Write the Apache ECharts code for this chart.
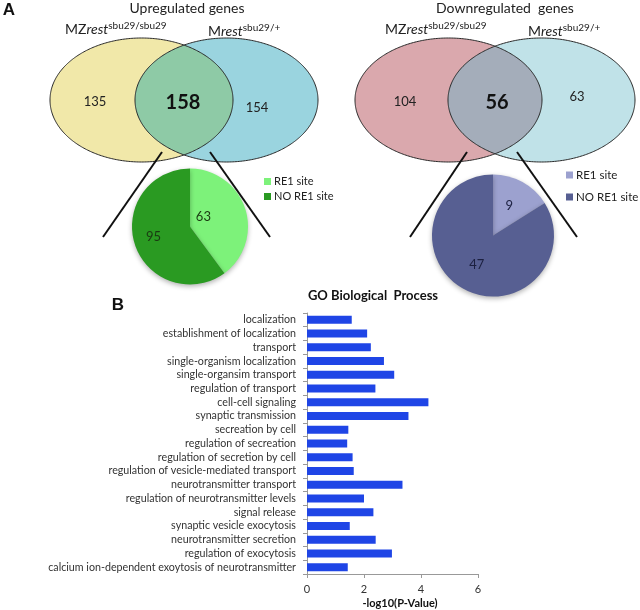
<!DOCTYPE html>
<html><head><meta charset="utf-8">
<script src="https://cdn.jsdelivr.net/npm/echarts@6/dist/echarts.min.js"></script>
<style>html,body{margin:0;padding:0;background:#fff}#c{width:640px;height:610px}</style>
</head><body><div id="c"></div>
<script>
// ---- data ----
var upVenn = [135, 158, 154];           // MZ only, both, M only
var downVenn = [104, 56, 63];
var pieNames = ['RE1 site', 'NO RE1 site'];
var upPie = [63, 95];
var downPie = [9, 47];
var goCategories = ['localization','establishment of localization','transport','single-organism localization','single-organsim transport','regulation of transport','cell-cell signaling','synaptic transmission','secreation by cell','regulation of secreation','regulation of secretion by cell','regulation of vesicle-mediated transport','neurotransmitter transport','regulation of neurotransmitter levels','signal release','synaptic vesicle exocytosis','neurotransmitter secretion','regulation of exocytosis','calcium ion-dependent exoytosis of neurotransmitter'];
var goValues = [1.57,2.11,2.24,2.70,3.06,2.40,4.26,3.56,1.45,1.41,1.60,1.64,3.35,2.00,2.33,1.50,2.41,2.98,1.43];
var xTicks = [0, 2, 4, 6];

var FONT = 'Lato, "Open Sans", sans-serif';

function ellipsePts(cx, cy, rx, ry, a0, a1, n) {
  var p = [];
  for (var i = 0; i <= n; i++) { var t = a0 + (a1 - a0) * i / n; p.push([cx + rx * Math.cos(t), cy + ry * Math.sin(t)]); }
  return p;
}
function inside(p, e) { var dx = (p[0]-e.cx)/e.rx, dy = (p[1]-e.cy)/e.ry; return dx*dx + dy*dy <= 1; }
function lens(A, B) {
  var a = ellipsePts(A.cx, A.cy, A.rx, A.ry, -Math.PI, Math.PI, 720).filter(function(p){return inside(p, B);});
  var b = ellipsePts(B.cx, B.cy, B.rx, B.ry, 0, 2*Math.PI, 720).filter(function(p){return inside(p, A);});
  return a.concat(b);
}
function venn(A, B, cA, cB, cAB) {
  var out = [];
  out.push({type:'polygon', shape:{points: ellipsePts(A.cx,A.cy,A.rx,A.ry,0,2*Math.PI,360)}, style:{fill:cA}, silent:true});
  out.push({type:'polygon', shape:{points: ellipsePts(B.cx,B.cy,B.rx,B.ry,0,2*Math.PI,360)}, style:{fill:cB}, silent:true});
  out.push({type:'polygon', shape:{points: lens(A,B)}, style:{fill:cAB}, silent:true});
  out.push({type:'polygon', shape:{points: ellipsePts(A.cx,A.cy,A.rx,A.ry,0,2*Math.PI,360)}, style:{fill:null, stroke:'#2a2a2a', lineWidth:1}, silent:true});
  out.push({type:'polygon', shape:{points: ellipsePts(B.cx,B.cy,B.rx,B.ry,0,2*Math.PI,360)}, style:{fill:null, stroke:'#2a2a2a', lineWidth:1}, silent:true});
  return out;
}
function txt(x, y, s, size, opts) {
  opts = opts || {};
  return {type:'text', x:x, y:y, silent:true, style:{text:s, fontSize:size, fontFamily:opts.family||FONT, fontWeight:opts.weight||'normal', fill:opts.fill||'#222', align:opts.align||'center', verticalAlign:'middle'}};
}
function geno(x, y, pre, sup) {
  return {type:'text', x:x, y:y, silent:true, style:{
    text:'{n|'+pre+'}{i|rest}{s|'+sup+'}', align:'left', verticalAlign:'middle',
    rich:{n:{fontSize:14, fontFamily:FONT, fill:'#222', height:18},
          i:{fontSize:14, fontFamily:FONT, fontStyle:'italic', fill:'#222', height:18},
          s:{fontSize:10, fontFamily:FONT, fill:'#222', verticalAlign:'top', height:12}}
  }};
}
function ln(x1,y1,x2,y2){return {type:'line', shape:{x1:x1,y1:y1,x2:x2,y2:y2}, style:{stroke:'#111', lineWidth:2}, silent:true};}

var g = [];
g = g.concat(venn({cx:141.5,cy:100,rx:91.5,ry:62},{cx:226.5,cy:100,rx:91.5,ry:62}, '#F1E8A9', '#9AD4DF', '#8ECAA6'));
g = g.concat(venn({cx:448.5,cy:100,rx:93.5,ry:62},{cx:541.5,cy:100,rx:93.5,ry:62}, '#DAA8AD', '#C0E2E8', '#A4ADBA'));
g.push(txt(9, 10, 'A', 17, {family:'"Liberation Sans", Arial, sans-serif', weight:'bold', fill:'#111'}));
g.push(txt(118, 305, 'B', 17, {family:'"Liberation Sans", Arial, sans-serif', weight:'bold', fill:'#111'}));
g.push(txt(187, 8, 'Upregulated genes', 14));
g.push(txt(505, 8, 'Downregulated  genes', 14));
g.push(geno(65, 29, 'MZ', 'sbu29/sbu29'));
g.push(geno(208, 31, 'M', 'sbu29/+'));
g.push(geno(385, 29, 'MZ', 'sbu29/sbu29'));
g.push(geno(528, 31, 'M', 'sbu29/+'));
g.push(txt(95, 102, String(upVenn[0]), 13));
g.push(txt(183, 103, String(upVenn[1]), 20, {weight:'bold', fill:'#111'}));
g.push(txt(257, 108, String(upVenn[2]), 13));
g.push(txt(405, 102, String(downVenn[0]), 13));
g.push(txt(497, 103, String(downVenn[1]), 20, {weight:'bold', fill:'#111'}));
g.push(txt(577, 97, String(downVenn[2]), 13));
g.push(ln(162,152,103,237)); g.push(ln(210,152,270,237));
g.push(ln(467,152,410,237)); g.push(ln(517,152,577,237));
g.push(txt(373, 296, 'GO Biological  Process', 13, {weight:'bold', fill:'#111'}));

function pieSeries(center, r, vals, colors, labelColor, pads) {
  return {type:'pie', center:center, radius:r, startAngle:90, clockwise:true, silent:true, z:5,
    label:{show:true, position:'inside', formatter:'{c}', fontSize:13, fontFamily:FONT, color:labelColor},
    labelLine:{show:false},
    itemStyle:{shadowBlur:5, shadowOffsetY:2, shadowColor:'rgba(0,0,0,0.3)'},
    emphasis:{disabled:true},
    data: vals.map(function(v,i){return {name:pieNames[i], value:v, itemStyle:{color:colors[i]}, label:{padding:pads[i]}};})
  };
}
var upColors = ['#7DF27A', '#2A9A22'];
var downColors = ['#9CA1CF', '#575F92'];

var chart = echarts.init(document.getElementById('c'), null, {renderer:'canvas'});
chart.setOption({
  animation:false,
  backgroundColor:'#fff',
  graphic: g,
  legend:[
    {left:264, top:176, orient:'vertical', itemWidth:7, itemHeight:7, itemGap:4, icon:'rect', selectedMode:false, padding:0,
     textStyle:{fontSize:11, fontFamily:FONT, color:'#222', padding:[0,0,0,-2]},
     data: pieNames.map(function(n,i){return {name:n, itemStyle:{color:upColors[i]}};})},
    {left:566, top:169, orient:'vertical', itemWidth:7, itemHeight:7, itemGap:10, icon:'rect', selectedMode:false, padding:0,
     textStyle:{fontSize:11.5, fontFamily:FONT, color:'#222', padding:[0,0,0,-2]},
     data: pieNames.map(function(n,i){return {name:n, itemStyle:{color:downColors[i]}};})}
  ],
  grid:{left:307, width:171, top:313, height:262, containLabel:false},
  xAxis:{type:'value', min:0, max:6, interval:2,
    axisLine:{show:true, lineStyle:{color:'#999'}},
    axisTick:{show:true, length:4, lineStyle:{color:'#999'}},
    splitLine:{show:false},
    axisLabel:{fontSize:11, fontFamily:FONT, color:'#333', margin:10},
    name:'-log10(P-Value)', nameLocation:'middle', nameGap:24,
    nameTextStyle:{fontSize:11, fontWeight:'bold', fontFamily:FONT, color:'#111', padding:[0,0,0,15]}},
  yAxis:{type:'category', data:goCategories, inverse:true,
    axisLine:{show:true, lineStyle:{color:'#999'}},
    axisTick:{show:true, length:4, lineStyle:{color:'#999'}},
    axisLabel:{fontSize:10.7, fontFamily:FONT, color:'#333', margin:11, interval:0}},
  series:[
    {type:'bar', data:goValues, barWidth:8, itemStyle:{color:'#1F45E6'}, silent:true},
    pieSeries([190,226.5], 58, upPie, upColors, '#1a3a12', [[10,34,0,0],[0,12,8,0]]),
    pieSeries([493,235.5], 61, downPie, downColors, '#1c2040', [[0,0,14,0],[0,0,0,0]])
  ]
});
</script></body></html>
